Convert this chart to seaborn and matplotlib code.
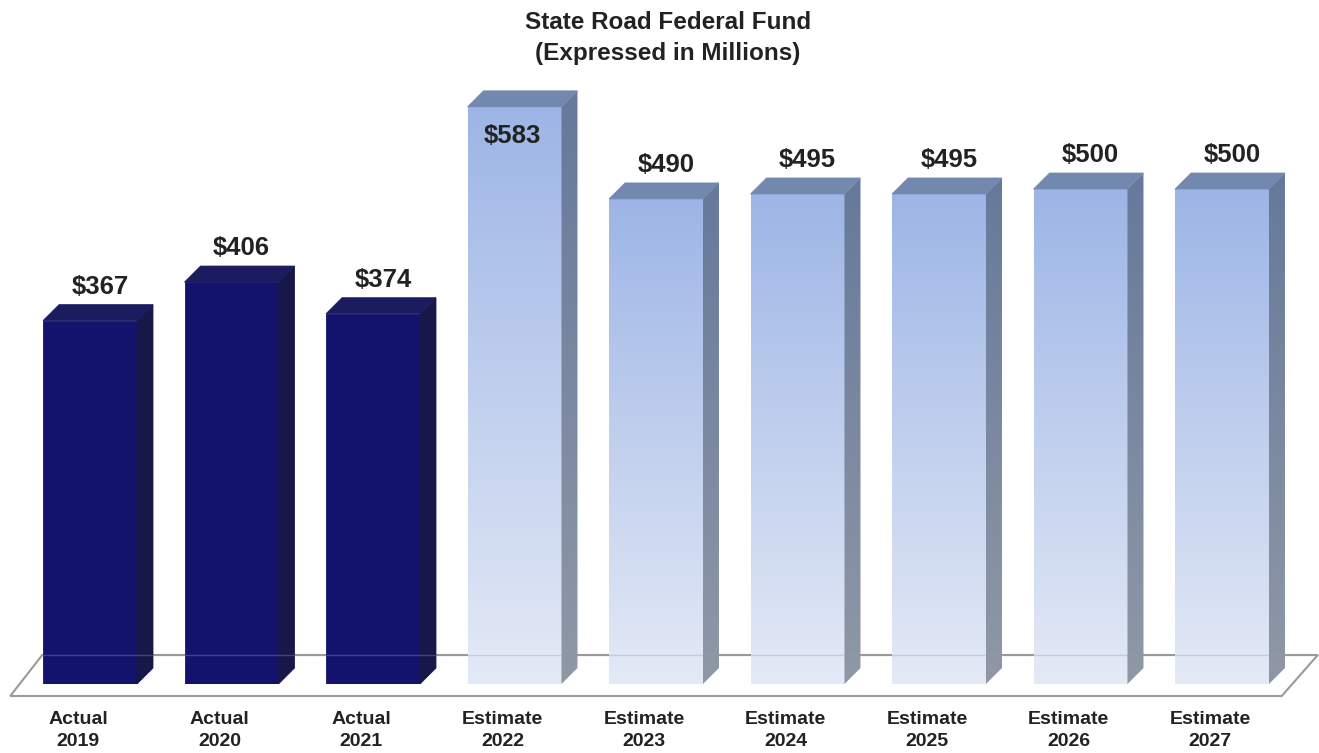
import numpy as np
import pandas as pd
import matplotlib
matplotlib.use("Agg")
import matplotlib.pyplot as plt
import matplotlib.transforms as mtransforms
from matplotlib.patches import Polygon
from matplotlib.colors import LinearSegmentedColormap
import seaborn as sns

# ---- data ----
categories = ["Actual\n2019", "Actual\n2020", "Actual\n2021", "Estimate\n2022", "Estimate\n2023",
              "Estimate\n2024", "Estimate\n2025", "Estimate\n2026", "Estimate\n2027"]
values = [367, 406, 374, 583, 490, 495, 495, 500, 500]
groups = ["Actual", "Actual", "Actual", "Estimate", "Estimate", "Estimate", "Estimate", "Estimate", "Estimate"]
value_labels = ["$367", "$406", "$374", "$583", "$490", "$495", "$495", "$500", "$500"]
title = "State Road Federal Fund\n(Expressed in Millions)"

sns.set_theme(style="white")
plt.rcParams['font.family'] = ['Liberation Sans', 'DejaVu Sans']

W, H = 1319, 753
fig = plt.figure(figsize=(W / 100, H / 100), dpi=100)
left_px, right_px = 90 - 70.75, 1222 + 70.75
bottom_px, top_px = 684, 40
ax = fig.add_axes([left_px / W, (H - bottom_px) / H, (right_px - left_px) / W, (bottom_px - top_px) / H])
ax.set_facecolor("none")

df = pd.DataFrame({"label": categories, "value": values, "group": groups})
sns.barplot(data=df, x="label", y="value", hue="group",
            palette={"Actual": "#13136E", "Estimate": "#A5BBE8"},
            dodge=False, width=0.664, legend=False, ax=ax, saturation=1,
            linewidth=0, zorder=3)
ymax = (bottom_px - top_px) / 0.99
ax.set_xlim(-0.5, 8.5)
ax.set_ylim(0, ymax)

# pixel scale
p0 = ax.transData.transform((0, 0))
p1 = ax.transData.transform((1, 1))
sx, sy = p1[0] - p0[0], p1[1] - p0[1]
dx, dy = 16 / sx, 16 / sy

# floor (decoration)
xl, xr = ax.get_xlim()
floor = Polygon([(xl - 9 / sx, -12 / sy), (xl + 23 / sx, 29 / sy),
                 (xr + 25 / sx, 29 / sy), (xr - 11 / sx, -12 / sy)],
                closed=True, facecolor="white", edgecolor="#9a9a9a", lw=1.5,
                clip_on=False, zorder=1)
ax.add_patch(floor)

bars = [p for p in ax.patches if p is not floor and np.isfinite(p.get_height()) and p.get_height() > 0]
bars.sort(key=lambda p: p.get_x())

front_cmap = LinearSegmentedColormap.from_list("front", ["#E4EAF6", "#9DB5E6"])
side_cmap = LinearSegmentedColormap.from_list("side", ["#9098A6", "#66799B"])
grad = np.linspace(0, 1, 256).reshape(-1, 1)

for bar, grp in zip(bars, groups):
    x0 = bar.get_x()
    w = bar.get_width()
    h = bar.get_height()
    x1 = x0 + w
    side_pts = [(x1, 0), (x1 + dx, dy), (x1 + dx, h + dy), (x1, h)]
    top_pts = [(x0, h), (x1, h), (x1 + dx, h + dy), (x0 + dx, h + dy)]
    if grp == "Actual":
        bar.set_edgecolor("#13136E")
        bar.set_linewidth(0.6)
        ax.add_patch(Polygon(side_pts, closed=True, facecolor="#17174A", edgecolor="#17174A",
                             lw=0.6, zorder=3))
        ax.add_patch(Polygon(top_pts, closed=True, facecolor="#1B1B60", edgecolor="#1B1B60",
                             lw=0.6, zorder=3))
    else:
        bar.set_facecolor("none")
        im = ax.imshow(grad, extent=(x0, x1, 0, h), origin="lower", aspect="auto",
                       cmap=front_cmap, zorder=3, interpolation="bicubic")
        side = Polygon(side_pts, closed=True, facecolor="none", edgecolor="none", zorder=3)
        ax.add_patch(side)
        ims = ax.imshow(grad, extent=(x1 - 0.3 / sx, x1 + dx, 0, h + dy), origin="lower", aspect="auto",
                        cmap=side_cmap, zorder=3, interpolation="bicubic")
        ims.set_clip_path(side)
        ax.add_patch(Polygon(top_pts, closed=True, facecolor="#7388AE", edgecolor="#7388AE",
                             lw=0.5, zorder=3))

ax.set_xlim(-0.5, 8.5)
ax.set_ylim(0, ymax)

# floor back edge faintly over bars
ax.plot([xl + 23 / sx, xr + 25 / sx], [29 / sy, 29 / sy], color="#9a9a9a", lw=1.0,
        alpha=0.35, zorder=4, clip_on=False)

# value labels
for bar, lab, v in zip(bars, value_labels, values):
    xc = bar.get_x() + bar.get_width() / 2
    if v == max(values):
        ax.annotate(lab, (xc, v), xytext=(-2, -29), textcoords="offset pixels",
                    ha="center", va="center", fontsize=18.5, fontweight="bold",
                    color="#222222", zorder=6)
    else:
        ax.annotate(lab, (xc, v), xytext=(10, 27), textcoords="offset pixels",
                    ha="center", va="baseline", fontsize=18.5, fontweight="bold",
                    color="#222222", zorder=6)

# axes styling
for s in ax.spines.values():
    s.set_visible(False)
ax.set_yticks([])
ax.set_xlabel("")
ax.set_ylabel("")
ax.tick_params(axis="x", length=0, pad=19.5)
shift = mtransforms.ScaledTranslation(-12 / 100, 0, fig.dpi_scale_trans)
for t in ax.get_xticklabels():
    t.set_fontsize(14)
    t.set_fontweight("bold")
    t.set_color("#222222")
    t.set_linespacing(1.35)
    t.set_transform(t.get_transform() + shift)

fig.text(668 / W, 1 - 38 / H, title, ha="center", va="center", fontsize=17.5,
         fontweight="bold", color="#222222", linespacing=1.4)

fig.savefig("out.png", dpi=100, facecolor="white")
